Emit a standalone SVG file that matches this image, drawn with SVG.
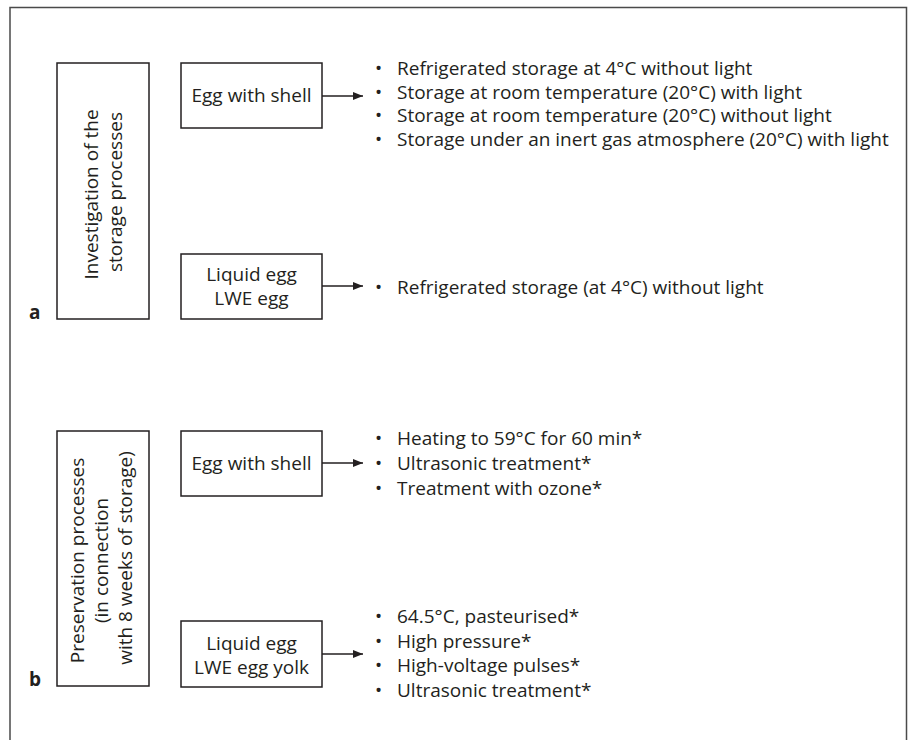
<svg xmlns="http://www.w3.org/2000/svg" width="912" height="740" viewBox="0 0 912 740">
  <style>
    text { font-family: "Open Sans", "Noto Sans", "Liberation Sans", sans-serif; font-size: 19px; fill: #231f20; }
    .box { fill: #ffffff; stroke: #231f20; stroke-width: 1.5; }
    .frame { fill: none; stroke: #4a4a4a; stroke-width: 1.5; }
    .conn { fill: none; stroke: #231f20; stroke-width: 1.5; }
    .mid { text-anchor: middle; }
    .tag { font-weight: bold; font-size: 19px; }
  </style>
  <defs>
    <marker id="arrow" viewBox="0 0 10 8" refX="10" refY="4" markerWidth="10" markerHeight="8" markerUnits="userSpaceOnUse" orient="auto">
      <path d="M0,0 L10,4 L0,8 z" fill="#231f20"/>
    </marker>
  </defs>

  <!-- outer frame -->
  <rect class="frame" x="10" y="7.5" width="896.5" height="745"/>

  <!-- part a: storage -->
  <g id="storage-study">
    <rect class="box" x="57" y="63" width="92" height="256"/>
    <text class="mid" transform="translate(103,192) rotate(-90)">
      <tspan x="0" y="-5">Investigation of the</tspan>
      <tspan x="0" y="19">storage processes</tspan>
    </text>
  </g>
  <g id="shell-egg-a">
    <rect class="box" x="181" y="63" width="141" height="65"/>
    <text class="mid" x="251.5" y="102">Egg with shell</text>
  </g>
  <g id="liquid-egg-a">
    <rect class="box" x="181" y="254" width="141" height="65"/>
    <text class="mid"><tspan x="251.5" y="281">Liquid egg</tspan><tspan x="251.5" y="305">LWE egg</tspan></text>
  </g>
  <g id="storage-shell-list">
    <text x="375" y="75"><tspan>•</tspan><tspan x="397">Refrigerated storage at 4°C without light</tspan></text>
    <text x="375" y="98.5"><tspan>•</tspan><tspan x="397">Storage at room temperature (20°C) with light</tspan></text>
    <text x="375" y="122"><tspan>•</tspan><tspan x="397">Storage at room temperature (20°C) without light</tspan></text>
    <text x="375" y="145.5"><tspan>•</tspan><tspan x="397">Storage under an inert gas atmosphere (20°C) with light</tspan></text>
  </g>
  <g id="storage-liquid-list">
    <text x="375" y="294"><tspan>•</tspan><tspan x="397">Refrigerated storage (at 4°C) without light</tspan></text>
  </g>
  <text class="tag" x="29" y="319">a</text>

  <!-- part b: preservation -->
  <g id="preservation">
    <rect class="box" x="57" y="431" width="92" height="255"/>
    <text class="mid" transform="translate(102,558) rotate(-90)">
      <tspan x="0" y="-18">Preservation processes</tspan>
      <tspan x="0" y="6">(in connection</tspan>
      <tspan x="0" y="30">with 8 weeks of storage)</tspan>
    </text>
  </g>
  <g id="shell-egg-b">
    <rect class="box" x="181" y="431" width="141" height="65"/>
    <text class="mid" x="251.5" y="470">Egg with shell</text>
  </g>
  <g id="liquid-egg-b">
    <rect class="box" x="181" y="621" width="141" height="66"/>
    <text class="mid"><tspan x="251.5" y="649.5">Liquid egg</tspan><tspan x="251.5" y="673.5">LWE egg yolk</tspan></text>
  </g>
  <g id="preserve-shell-list">
    <text x="375" y="445"><tspan>•</tspan><tspan x="397">Heating to 59°C for 60 min*</tspan></text>
    <text x="375" y="470"><tspan>•</tspan><tspan x="397">Ultrasonic treatment*</tspan></text>
    <text x="375" y="495"><tspan>•</tspan><tspan x="397">Treatment with ozone*</tspan></text>
  </g>
  <g id="preserve-liquid-list">
    <text x="375" y="623"><tspan>•</tspan><tspan x="397">64.5°C, pasteurised*</tspan></text>
    <text x="375" y="647.5"><tspan>•</tspan><tspan x="397">High pressure*</tspan></text>
    <text x="375" y="672"><tspan>•</tspan><tspan x="397">High-voltage pulses*</tspan></text>
    <text x="375" y="696.5"><tspan>•</tspan><tspan x="397">Ultrasonic treatment*</tspan></text>
  </g>
  <text class="tag" x="29" y="686">b</text>

  <!-- connectors -->
  <g id="connectors">
    <line class="conn" x1="322" y1="96" x2="363" y2="96" marker-end="url(#arrow)"/>
    <line class="conn" x1="322" y1="286" x2="363" y2="286" marker-end="url(#arrow)"/>
    <line class="conn" x1="322" y1="463" x2="363" y2="463" marker-end="url(#arrow)"/>
    <line class="conn" x1="322" y1="654" x2="363" y2="654" marker-end="url(#arrow)"/>
  </g>
</svg>
